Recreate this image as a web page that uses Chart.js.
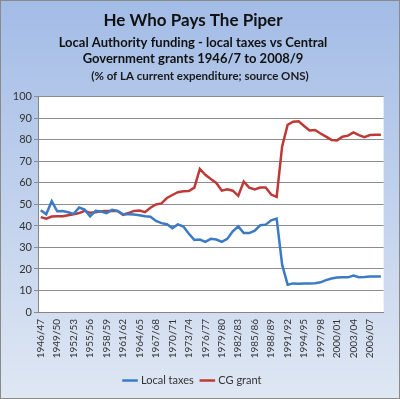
<!DOCTYPE html>
<html>
<head>
<meta charset="utf-8">
<script src="https://cdn.jsdelivr.net/npm/chart.js@4"></script>
<style>
  html, body { margin: 0; padding: 0; background: #fff; }
  #wrap { width: 400px; height: 399px; }
</style>
</head>
<body>
<div id="wrap"><canvas id="piper" width="400" height="399"></canvas></div>
<script>
// years 1946/47 .. 2008/09
const years = [];
for (let y = 1946; y <= 2008; y++) {
  years.push(y + '/' + String((y + 1) % 100).padStart(2, '0'));
}

// % of LA current expenditure
const localTaxes = [
  47.3, 45.4, 51.5, 46.8, 46.9, 46.4, 45.6, 48.6, 47.6, 44.5,
  47.0, 46.7, 46.0, 47.5, 47.0, 45.4, 45.4, 45.3, 45.0, 44.5,
  44.3, 42.3, 41.3, 40.8, 39.0, 40.7, 39.7, 36.4, 33.5, 33.7,
  32.6, 34.0, 33.7, 32.6, 34.0, 37.5, 39.8, 36.7, 36.7, 37.8,
  40.3, 40.6, 42.6, 43.4, 22.0, 12.7, 13.3, 13.1, 13.2, 13.3,
  13.4, 13.8, 14.8, 15.6, 16.0, 16.1, 16.1, 16.9, 16.2, 16.3,
  16.5, 16.5, 16.5
];
const cgGrant = [
  44.1, 43.4, 44.4, 44.5, 44.5, 45.0, 45.4, 46.0, 47.0, 46.1,
  46.4, 46.8, 47.0, 47.0, 47.0, 45.2, 46.0, 47.0, 47.2, 46.4,
  48.5, 50.0, 50.5, 53.0, 54.4, 55.7, 56.1, 56.2, 57.8, 66.5,
  63.8, 61.8, 60.0, 56.4, 57.0, 56.4, 54.0, 60.6, 57.8, 57.0,
  57.9, 57.9, 54.6, 53.5, 77.0, 87.0, 88.5, 88.7, 86.5, 84.4,
  84.6, 83.0, 81.5, 80.0, 79.8, 81.5, 82.0, 83.5, 82.2, 81.3,
  82.3, 82.4, 82.4
];

const titleLines = ['He Who Pays The Piper'];
const subLines = ['Local Authority funding - local taxes vs Central', 'Government grants 1946/7 to 2008/9'];
const noteLine = '(% of LA current expenditure; source ONS)';

const frame = {
  id: 'frame',
  beforeDraw(chart) {
    const ctx = chart.ctx, w = chart.width, h = chart.height, a = chart.chartArea;
    ctx.save();
    const g = ctx.createLinearGradient(0, 0, 0, h);
    g.addColorStop(0, '#a3bce6');
    g.addColorStop(1, '#dfe7f3');
    ctx.fillStyle = g;
    ctx.fillRect(0, 0, w, h);
    ctx.strokeStyle = '#8a8a8a';
    ctx.lineWidth = 1;
    ctx.strokeRect(0.5, 0.5, w - 1, h - 1);
    ctx.fillStyle = '#ffffff';
    ctx.fillRect(a.left, a.top, a.right - a.left, a.bottom - a.top);
    ctx.restore();
  },
  afterDraw(chart) {
    const ctx = chart.ctx;
    ctx.save();
    ctx.font = 'bold 11.5px Lato';
    ctx.fillStyle = '#1a1a1a';
    ctx.textAlign = 'center';
    ctx.textBaseline = 'middle';
    ctx.fillText(noteLine, chart.width / 2, 76);
    ctx.restore();
  }
};

new Chart(document.getElementById('piper').getContext('2d'), {
  type: 'line',
  data: {
    labels: years,
    datasets: [
      { label: 'Local taxes', data: localTaxes, borderColor: '#3b7ac4', backgroundColor: '#3b7ac4',
        borderWidth: 2.5, pointRadius: 0, tension: 0 },
      { label: 'CG grant', data: cgGrant, borderColor: '#be3a36', backgroundColor: '#be3a36',
        borderWidth: 2.5, pointRadius: 0, tension: 0 }
    ]
  },
  options: {
    responsive: false,
    animation: false,
    layout: { padding: { left: 0, right: 14, top: 0, bottom: 3 } },
    plugins: {
      title: {
        display: true, text: titleLines, color: '#111',
        font: { family: 'Lato', size: 17, weight: 'bold', lineHeight: 1.2 },
        padding: { top: 10, bottom: 4 }
      },
      subtitle: {
        display: true, text: subLines, color: '#111',
        font: { family: 'Lato', size: 13, weight: 'bold', lineHeight: 1.25 },
        padding: { top: 0, bottom: 30 }
      },
      legend: {
        position: 'bottom',
        labels: {
          usePointStyle: true, pointStyle: 'line', boxWidth: 20, padding: 8,
          color: '#333', font: { family: 'Lato', size: 11 }
        }
      },
      tooltip: { enabled: false }
    },
    scales: {
      x: {
        offset: true,
        grid: { display: false, drawTicks: false },
        border: { display: true, color: '#868686' },
        ticks: {
          autoSkip: false, maxRotation: 90, minRotation: 90, padding: 7,
          color: '#333', font: { family: 'Lato', size: 10 },
          callback: function (v, i) { return i % 3 === 0 ? this.getLabelForValue(v) : ''; }
        },
        afterFit: s => { s.height = 55; }
      },
      y: {
        min: 0, max: 100,
        grid: { color: '#8c8c8c', tickLength: 4 },
        border: { display: true, color: '#868686' },
        ticks: { stepSize: 10, padding: 2, color: '#333', font: { family: 'Lato', size: 11 } },
        afterFit: s => { s.width = 38; }
      }
    }
  },
  plugins: [frame]
});
</script>
</body>
</html>
